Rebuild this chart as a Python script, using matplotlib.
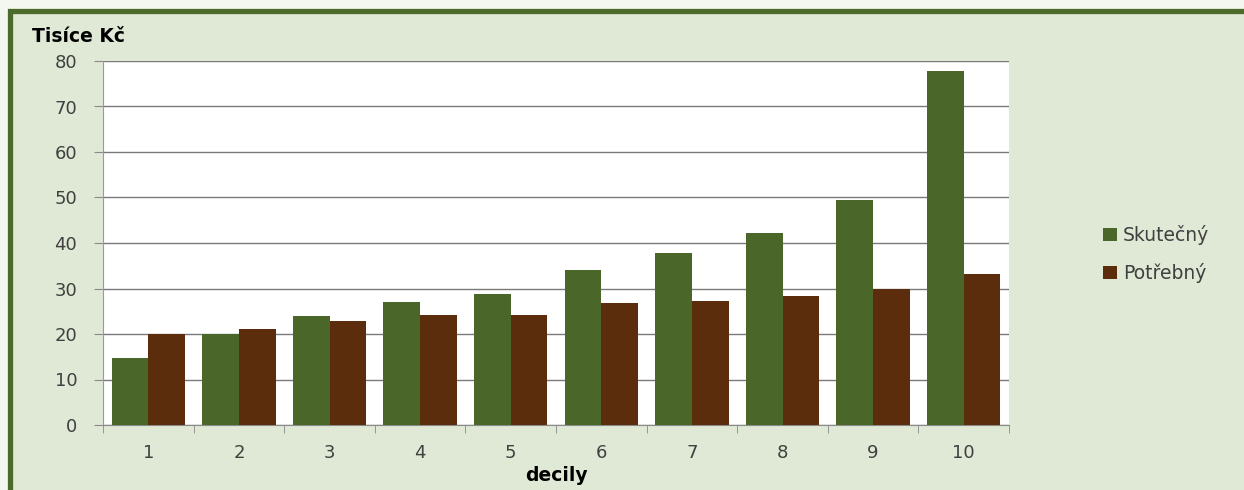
import matplotlib
matplotlib.use("Agg")
import matplotlib.pyplot as plt
from matplotlib.patches import Rectangle, Patch
import numpy as np

categories = ["1", "2", "3", "4", "5", "6", "7", "8", "9", "10"]
skutecny = [14.8, 20.0, 24.0, 27.0, 28.9, 34.1, 37.8, 42.1, 49.4, 77.8]
potrebny = [20.1, 21.1, 22.9, 24.1, 24.2, 26.9, 27.2, 28.4, 29.9, 33.2]
series_names = ["Skutečný", "Potřebný"]
y_ticks = [0, 10, 20, 30, 40, 50, 60, 70, 80]

GREEN = "#4a6729"
BROWN = "#5b2d0d"
FRAME = "#4b6a2b"
INNER = "#dfe9d5"
OUTER = "#f4f7ef"
GRID = "#7a7a7a"
TXT = "#404040"

W, H = 1244, 490
fig = plt.figure(figsize=(W / 100, H / 100), dpi=100, facecolor=OUTER)

# chart frame (behind everything)
frame = Rectangle((9.5 / W, -0.1), 1.2, 1.1 - 11.5 / H,
                  transform=fig.transFigure, facecolor=INNER,
                  edgecolor=FRAME, linewidth=3.8, zorder=-10)
fig.patches.append(frame)

left, right, top, bottom = 103, 1009, 61, 425
ax = fig.add_axes([left / W, (H - bottom) / H, (right - left) / W, (bottom - top) / H])
ax.set_zorder(1)
ax.set_facecolor("white")

x = np.arange(len(categories))
bw = 0.405
ax.bar(x - bw / 2, skutecny, bw, color=GREEN, zorder=3, label=series_names[0])
ax.bar(x + bw / 2, potrebny, bw, color=BROWN, zorder=3, label=series_names[1])

ax.set_xlim(-0.5, len(categories) - 0.5)
ax.set_ylim(0, 80)
ax.set_yticks(y_ticks)
ax.set_yticklabels([str(v) for v in y_ticks], fontsize=13, color=TXT)
ax.yaxis.grid(True, color=GRID, linewidth=1.0, zorder=1)
ax.set_axisbelow(True)

ax.set_xticks(x)
ax.set_xticklabels(categories, fontsize=13, color=TXT)
ax.set_xticks(np.arange(-0.5, len(categories), 1.0), minor=True)
ax.tick_params(axis="x", which="major", length=0, pad=14)
ax.tick_params(axis="x", which="minor", length=6, color="#8a8a8a", direction="out")
ax.tick_params(axis="y", length=6.5, color="#8a8a8a", direction="out", pad=12)

for s in ["top", "right"]:
    ax.spines[s].set_visible(False)
ax.spines["left"].set_color("#9a9a9a")
ax.spines["bottom"].set_color("#8a8a8a")

fig.text(32 / W, 1 - 36 / H, "Tisíce Kč", fontsize=13.5, fontweight="bold",
         color="black", ha="left", va="center", family="DejaVu Sans")
fig.text(556 / W, 1 - 475 / H, "decily", fontsize=13.5, fontweight="bold",
         color="black", ha="center", va="center", family="DejaVu Sans")

handles = [Patch(facecolor=GREEN), Patch(facecolor=BROWN)]
fig.legend(handles, series_names, loc="center left",
           bbox_to_anchor=(1103 / W, 1 - 254 / H), frameon=False,
           prop={"family": "DejaVu Sans", "size": 13.5}, labelcolor=TXT,
           handlelength=0.75, handleheight=0.65, handletextpad=0.3,
           labelspacing=0.95, borderaxespad=0, borderpad=0)

fig.savefig("out.png", dpi=100, facecolor=OUTER)
